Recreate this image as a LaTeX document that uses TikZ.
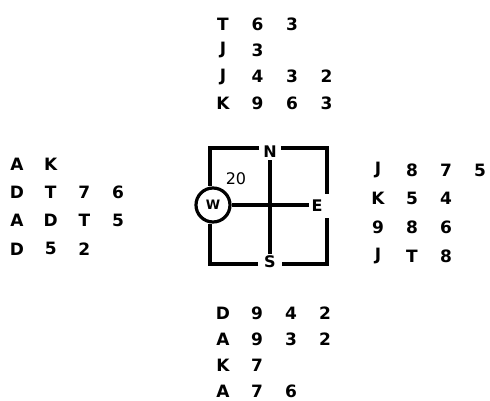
\documentclass[tikz,border=0pt]{standalone}
\usepackage{fontspec}
\setmainfont{DejaVu Sans}
\begin{document}
\begin{tikzpicture}[x=1pt,y=-1pt,
  card/.style={font=\fontsize{17}{17}\selectfont\bfseries, inner sep=0pt, anchor=center},
  lab/.style={font=\fontsize{16}{16}\selectfont\bfseries, inner xsep=4pt, inner ysep=2pt},
  boxline/.style={line width=3.2pt}]
\useasboundingbox (0,0) rectangle (490,401);
% compass nodes
\node[lab] (N) at (270,152) {N};
\node[lab, inner xsep=2pt, inner ysep=6pt] (E) at (317,206) {E};
\node[lab, inner xsep=6pt] (S) at (270,262) {S};
\node[lab, font=\fontsize{16}{16}\selectfont] (twenty) at (236,179) {20};
\node[circle, draw, line width=3.2pt, minimum size=34pt, inner sep=0pt,
      font=\fontsize{13}{13}\selectfont\bfseries] (W) at (213,205) {W};
\coordinate (TL) at (210,148);
\coordinate (TR) at (327,148);
\coordinate (BR) at (327,264);
\coordinate (BL) at (210,264);
% box outline
\draw[boxline] (N.west |- TL) -- (TL) -- (TL |- W.north);
\draw[boxline] (N.east |- TR) -- (TR) -- (TR |- E.north);
\draw[boxline] (TR |- E.south) -- (BR) -- (S.east |- BR);
\draw[boxline] (S.west |- BL) -- (BL) -- (BL |- W.south);
% cross
\draw[boxline] (N.south) -- (S.north);
\draw[boxline] (W.east) -- (W.east -| E.west);
% hands
\foreach \row [count=\ri] in {{T,6,3},{J,3},{J,4,3,2},{K,9,6,3}}
  \foreach \card [count=\ci] in \row
    \node[card] (north-\ri-\ci) at ({223+34.5*(\ci-1)},{24+26.3*(\ri-1)}) {\card};
\foreach \row [count=\ri] in {{A,K},{D,T,7,6},{A,D,T,5},{D,5,2}}
  \foreach \card [count=\ci] in \row
    \node[card] (west-\ri-\ci) at ({17+33.7*(\ci-1)},{164+28.3*(\ri-1)}) {\card};
\foreach \row [count=\ri] in {{J,8,7,5},{K,5,4},{9,8,6},{J,T,8}}
  \foreach \card [count=\ci] in \row
    \node[card] (east-\ri-\ci) at ({378+34*(\ci-1)},{170+28.7*(\ri-1)}) {\card};
\foreach \row [count=\ri] in {{D,9,4,2},{A,9,3,2},{K,7},{A,7,6}}
  \foreach \card [count=\ci] in \row
    \node[card] (south-\ri-\ci) at ({223+34*(\ci-1)},{313+26*(\ri-1)}) {\card};
\end{tikzpicture}
\end{document}
